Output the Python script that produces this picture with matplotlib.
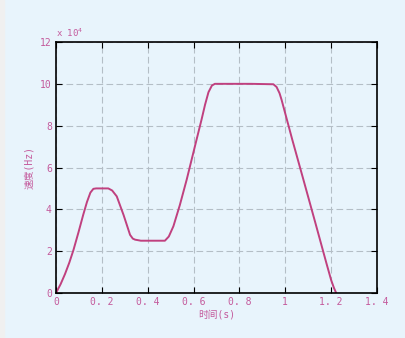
import numpy as np
import matplotlib.pyplot as plt
from matplotlib.ticker import FuncFormatter

plt.rcParams['font.family'] = ['DejaVu Sans Mono', 'Noto Sans CJK SC']

# time (s) and speed (Hz)
t = [0.0, 0.02, 0.039, 0.058, 0.076, 0.098, 0.119, 0.135, 0.15, 0.163, 0.175, 0.228,
     0.245, 0.265, 0.295, 0.323, 0.335, 0.345, 0.37, 0.42, 0.475, 0.492, 0.512, 0.54,
     0.57, 0.613, 0.635, 0.65, 0.665, 0.68, 0.693, 0.75, 0.85, 0.948, 0.962, 0.975,
     0.984, 1.03, 1.079, 1.13, 1.18, 1.2, 1.212, 1.222]
speed = [0.0, 0.42, 0.9, 1.45, 2.05, 2.9, 3.75, 4.35, 4.8, 4.98, 5.0, 5.0,
         4.9, 4.62, 3.72, 2.78, 2.6, 2.55, 2.5, 2.5, 2.5, 2.7, 3.19, 4.2,
         5.42, 7.33, 8.3, 9.0, 9.6, 9.92, 10.0, 10.0, 10.0, 9.98, 9.85, 9.55,
         9.23, 7.35, 5.42, 3.4, 1.4, 0.62, 0.25, 0.0]
speed = [v * 1e4 for v in speed]

xticks = [0, 0.2, 0.4, 0.6, 0.8, 1, 1.2, 1.4]
xlabels = ['0', '0. 2', '0. 4', '0. 6', '0. 8', '1', '1. 2', '1. 4']
yticks = [0, 2e4, 4e4, 6e4, 8e4, 10e4, 12e4]

bg = '#e8f4fc'
txt = '#c45a9c'
line = '#c0407f'

fig = plt.figure(figsize=(4.06, 3.38), dpi=100, facecolor=bg)
fig.patches.append(plt.Rectangle((0, 0), 4 / 406, 1, transform=fig.transFigure,
                                 color='#f0f0f0', zorder=0))
ax = fig.add_axes([56 / 406, 45 / 338, 321 / 406, 251 / 338])
ax.set_facecolor(bg)

ax.plot(t, speed, color=line, lw=1.4)

ax.set_xlim(0, 1.4)
ax.set_ylim(0, 12e4)
ax.set_xticks(xticks)
ax.set_xticklabels(xlabels)
ax.set_yticks(yticks)
ax.yaxis.set_major_formatter(FuncFormatter(lambda v, p: '%d' % round(v / 1e4)))
ax.tick_params(direction='in', top=True, right=True, length=4, width=0.8,
               labelsize=7, labelcolor=txt, color='black', pad=3)
ax.grid(True, color='#b4bec6', ls=(0, (6, 3)), lw=0.8)
for s in ax.spines.values():
    s.set_linewidth(1.2)

ax.set_xlabel('时间(s)', color=txt, fontsize=7, labelpad=2)
ax.set_ylabel('速度(Hz)', color=txt, fontsize=7, labelpad=4)
ax.text(0, 1.01, 'x 10$^4$', transform=ax.transAxes, color=txt, fontsize=6.5,
        ha='left', va='bottom')

fig.savefig('out.png', dpi=100, facecolor=bg)
